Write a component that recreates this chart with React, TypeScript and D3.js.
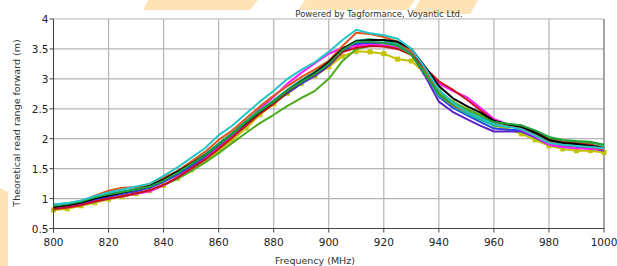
import React from 'react';
import * as d3 from 'd3';

// frequency points (MHz)
const freqs = d3.range(800, 1001, 5);

const cyan = [0.90, 0.92, 0.97, 1.04, 1.10, 1.15, 1.20, 1.25, 1.38, 1.52, 1.68, 1.84, 2.06, 2.22, 2.42, 2.62, 2.80, 3.00, 3.15, 3.28, 3.45, 3.65, 3.82, 3.76, 3.73, 3.67, 3.50, 3.18, 2.82, 2.60, 2.45, 2.35, 2.24, 2.20, 2.16, 2.05, 1.93, 1.90, 1.88, 1.86, 1.84];
const orange = [0.86, 0.89, 0.95, 1.05, 1.13, 1.18, 1.19, 1.24, 1.35, 1.46, 1.62, 1.78, 1.98, 2.14, 2.34, 2.54, 2.72, 2.88, 3.03, 3.16, 3.30, 3.55, 3.77, 3.75, 3.70, 3.62, 3.45, 3.15, 2.75, 2.56, 2.45, 2.36, 2.26, 2.22, 2.18, 2.06, 1.94, 1.90, 1.88, 1.86, 1.82];
const black = [0.86, 0.89, 0.93, 1.00, 1.05, 1.10, 1.15, 1.21, 1.32, 1.45, 1.58, 1.72, 1.90, 2.08, 2.27, 2.45, 2.62, 2.80, 2.96, 3.10, 3.28, 3.50, 3.63, 3.65, 3.65, 3.62, 3.50, 3.20, 2.88, 2.68, 2.55, 2.44, 2.30, 2.24, 2.20, 2.10, 1.98, 1.93, 1.91, 1.88, 1.84];
const indigo = [0.84, 0.87, 0.91, 0.97, 1.03, 1.08, 1.12, 1.18, 1.28, 1.40, 1.53, 1.68, 1.85, 2.04, 2.24, 2.44, 2.60, 2.76, 2.92, 3.05, 3.22, 3.45, 3.58, 3.60, 3.60, 3.56, 3.42, 3.05, 2.62, 2.45, 2.33, 2.22, 2.12, 2.12, 2.12, 2.02, 1.90, 1.86, 1.85, 1.84, 1.80];
const blue = [0.85, 0.88, 0.92, 0.98, 1.04, 1.09, 1.13, 1.19, 1.29, 1.41, 1.55, 1.70, 1.87, 2.05, 2.25, 2.44, 2.60, 2.77, 2.93, 3.07, 3.24, 3.46, 3.59, 3.61, 3.60, 3.56, 3.44, 3.10, 2.70, 2.52, 2.40, 2.28, 2.17, 2.15, 2.14, 2.04, 1.92, 1.88, 1.86, 1.85, 1.81];
const magenta = [0.84, 0.86, 0.90, 0.95, 1.00, 1.04, 1.08, 1.12, 1.22, 1.36, 1.50, 1.66, 1.85, 2.05, 2.28, 2.50, 2.70, 2.92, 3.10, 3.26, 3.42, 3.52, 3.55, 3.57, 3.56, 3.52, 3.40, 3.15, 2.92, 2.80, 2.70, 2.52, 2.33, 2.24, 2.15, 2.04, 1.90, 1.86, 1.84, 1.83, 1.82];
const darkRed = [0.82, 0.85, 0.89, 0.95, 1.00, 1.04, 1.09, 1.14, 1.23, 1.35, 1.50, 1.65, 1.83, 2.02, 2.22, 2.42, 2.58, 2.78, 2.95, 3.08, 3.25, 3.45, 3.52, 3.55, 3.54, 3.50, 3.40, 3.18, 2.96, 2.82, 2.66, 2.48, 2.30, 2.24, 2.22, 2.12, 1.98, 1.94, 1.92, 1.90, 1.84];
const green = [0.88, 0.91, 0.95, 1.02, 1.07, 1.11, 1.15, 1.20, 1.30, 1.43, 1.57, 1.72, 1.90, 2.08, 2.28, 2.46, 2.62, 2.80, 2.95, 3.08, 3.25, 3.48, 3.62, 3.62, 3.60, 3.55, 3.40, 3.08, 2.75, 2.58, 2.46, 2.36, 2.28, 2.25, 2.22, 2.14, 2.03, 1.98, 1.96, 1.95, 1.90];
const teal = [0.90, 0.92, 0.96, 1.03, 1.08, 1.12, 1.16, 1.22, 1.33, 1.46, 1.60, 1.74, 1.92, 2.10, 2.30, 2.48, 2.64, 2.82, 2.98, 3.12, 3.30, 3.50, 3.64, 3.66, 3.64, 3.58, 3.45, 3.10, 2.72, 2.55, 2.42, 2.32, 2.22, 2.20, 2.18, 2.08, 1.96, 1.92, 1.90, 1.90, 1.86];
const olive = [0.81, 0.83, 0.88, 0.93, 0.99, 1.03, 1.08, 1.13, 1.22, 1.34, 1.48, 1.64, 1.80, 1.98, 2.18, 2.40, 2.58, 2.76, 2.92, 3.05, 3.20, 3.38, 3.46, 3.45, 3.42, 3.33, 3.30, 3.10, 2.80, 2.60, 2.48, 2.36, 2.22, 2.16, 2.08, 1.98, 1.88, 1.83, 1.80, 1.80, 1.77];
const lime = [0.84, 0.86, 0.90, 0.95, 1.00, 1.04, 1.08, 1.13, 1.22, 1.33, 1.46, 1.60, 1.76, 1.93, 2.10, 2.26, 2.40, 2.55, 2.68, 2.80, 3.00, 3.30, 3.50, 3.55, 3.55, 3.52, 3.42, 3.12, 2.80, 2.62, 2.50, 2.40, 2.28, 2.24, 2.20, 2.12, 2.00, 1.96, 1.94, 1.93, 1.90];

const xTicks = [800, 820, 840, 860, 880, 900, 920, 940, 960, 980, 1000];
const yTicks = [0.5, 1, 1.5, 2, 2.5, 3, 3.5, 4];

const series = [
  { name: 'olive', values: olive, color: '#c2c200', marker: true },
  { name: 'lime', values: lime, color: '#4caa1c' },
  { name: 'indigo', values: indigo, color: '#5a22c8' },
  { name: 'blue', values: blue, color: '#2a44f0' },
  { name: 'magenta', values: magenta, color: '#ff1cff' },
  { name: 'teal', values: teal, color: '#12b48c' },
  { name: 'orange', values: orange, color: '#e0561e' },
  { name: 'darkRed', values: darkRed, color: '#c4101e' },
  { name: 'black', values: black, color: '#000000' },
  { name: 'green', values: green, color: '#1ea23a' },
  { name: 'cyan', values: cyan, color: '#22c4c8' },
];

const W = 617;
const H = 266;
const font = '"DejaVu Sans", Verdana, sans-serif';

export default function App() {
  const x = d3.scaleLinear().domain([800, 1000]).range([53.5, 604]);
  const y = d3.scaleLinear().domain([0.5, 4]).range([228.5, 19]);

  const line = d3
    .line<number>()
    .x((d, i) => x(freqs[i]))
    .y(d => y(d));

  return (
    <svg width={W} height={H} style={{ position: 'absolute', left: 0, top: 0, background: '#fff' }}>
      {/* decorative background stripes */}
      <g fill="#fde3b6">
        <polygon points="148,0 258,0 250,10 143,10" />
        <polygon points="305,0 415,0 408,10 298,10" />
        <polygon points="420,0 478,0 470,14 412,14" />
        <polygon points="0,188 8,192 8,266 0,266" />
      </g>

      {/* grid */}
      <g stroke="#b4b4b4" strokeWidth={1.2}>
        {xTicks.map(t => (
          <line key={'gx' + t} x1={x(t)} x2={x(t)} y1={y(4)} y2={y(0.5)} />
        ))}
        {yTicks.map(t => (
          <line key={'gy' + t} x1={x(800)} x2={x(1000)} y1={y(t)} y2={y(t)} />
        ))}
      </g>
      <line x1={x(1000)} x2={x(1000)} y1={y(4)} y2={y(0.5)} stroke="#888" strokeWidth={1.2} />

      {/* series */}
      <g fill="none" strokeWidth={2} strokeLinejoin="round">
        {series.map(s => (
          <g key={s.name}>
            <path d={line(s.values) ?? ''} stroke={s.color} />
            {s.marker &&
              s.values.map((v, i) => (
                <rect key={i} x={x(freqs[i]) - 2.5} y={y(v) - 2.5} width={5} height={5} fill={s.color} stroke="none" />
              ))}
          </g>
        ))}
      </g>

      {/* axes */}
      <g stroke="#444" strokeWidth={1}>
        <line x1={x(800)} x2={x(800)} y1={y(4)} y2={y(0.5) + 4} />
        <line x1={x(800)} x2={x(1000)} y1={y(0.5)} y2={y(0.5)} />
        {yTicks.map(t => (
          <line key={'ty' + t} x1={x(800) - 4} x2={x(800)} y1={y(t)} y2={y(t)} />
        ))}
        {xTicks.map(t => (
          <line key={'tx' + t} x1={x(t)} x2={x(t)} y1={y(0.5)} y2={y(0.5) + 4} />
        ))}
      </g>

      <g fontFamily={font} fontSize={10.5} fill="#222">
        {yTicks.map(t => (
          <text key={'ly' + t} x={x(800) - 5} y={y(t) + 4} textAnchor="end">
            {String(t)}
          </text>
        ))}
        {xTicks.map(t => (
          <text key={'lx' + t} x={x(t)} y={y(0.5) + 17} textAnchor="middle">
            {t}
          </text>
        ))}
      </g>

      <text x={315} y={264} textAnchor="middle" fontFamily={font} fontSize={9.5} fill="#333">
        Frequency (MHz)
      </text>
      <text
        transform={`translate(20,${123}) rotate(-90)`}
        textAnchor="middle"
        fontFamily={font}
        fontSize={9.5}
        fill="#333"
      >
        Theoretical read range forward (m)
      </text>
      <text x={379} y={17} textAnchor="middle" fontFamily={font} fontSize={8.5} fill="#333">
        Powered by Tagformance, Voyantic Ltd.
      </text>
    </svg>
  );
}
